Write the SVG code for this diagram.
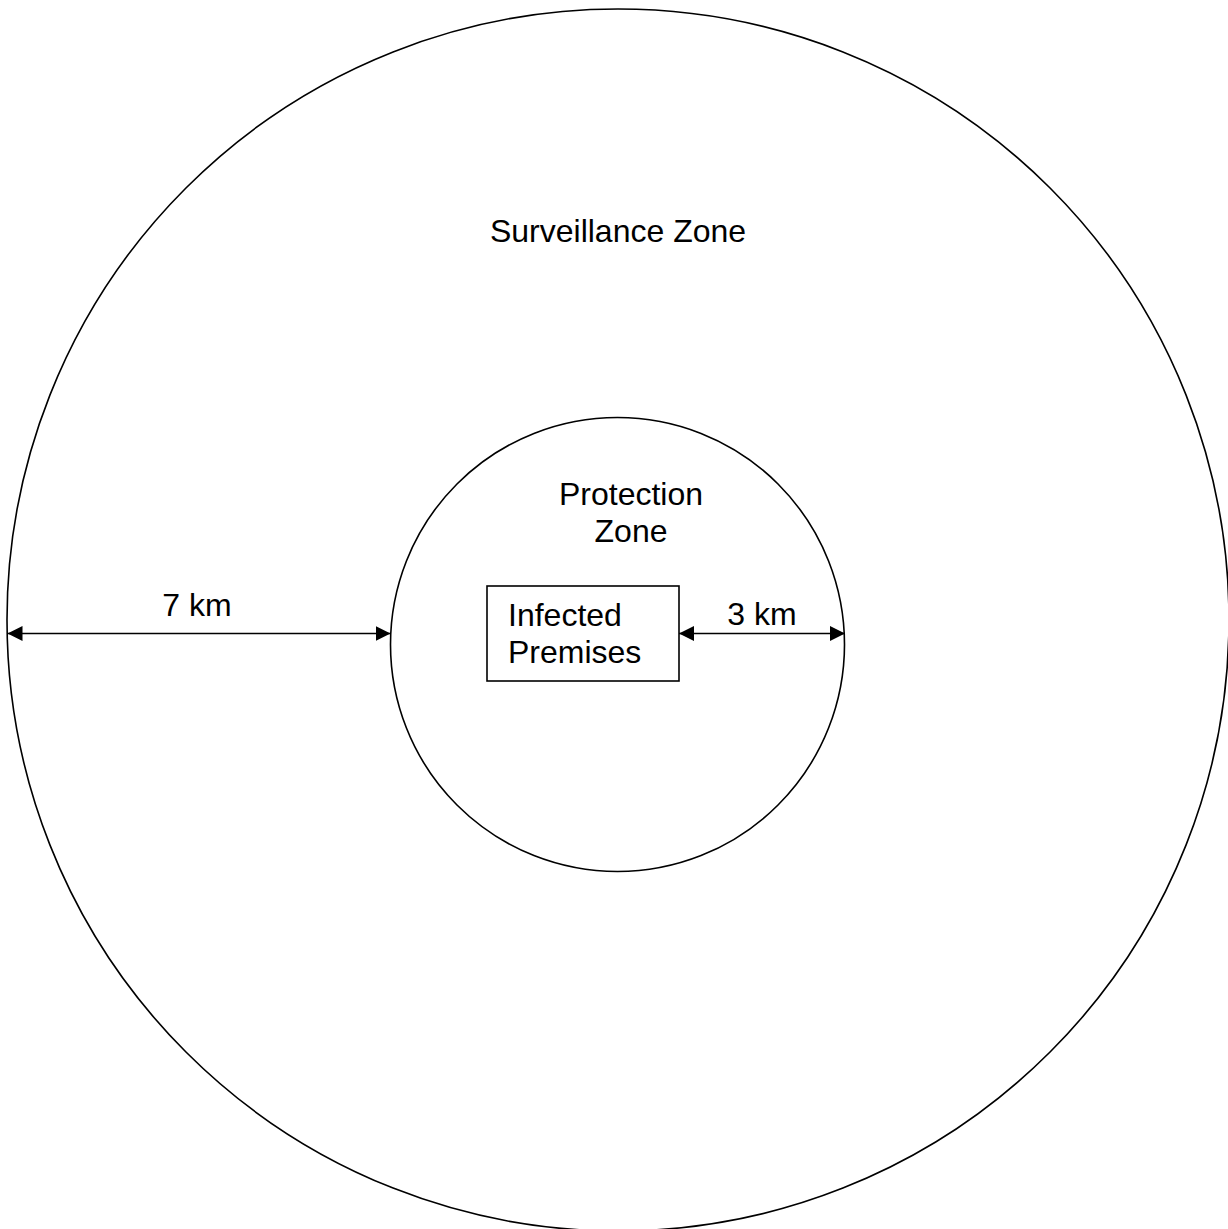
<svg xmlns="http://www.w3.org/2000/svg" width="1228" height="1229" viewBox="0 0 1228 1229">
<style>
.zone{fill:none;stroke:#000;stroke-width:1.6}
.box{fill:#fff;stroke:#000;stroke-width:1.6}
.t{font-family:"Liberation Sans",Arial,sans-serif;font-size:32px;fill:#000}
.c{text-anchor:middle}
.dim{stroke:#000;stroke-width:1.6;fill:none;marker-start:url(#ah);marker-end:url(#ah)}
</style>
<defs>
<marker id="ah" viewBox="0 0 10 10" refX="10" refY="5" markerWidth="15" markerHeight="15" markerUnits="userSpaceOnUse" orient="auto-start-reverse">
<path d="M0,0 L10,5 L0,10 Z" fill="#000"/>
</marker>
</defs>
<rect width="1228" height="1229" fill="#fff"/>
<g id="surveillance-zone">
<circle class="zone" cx="618" cy="620" r="611"/>
<text class="t c" x="618" y="242">Surveillance Zone</text>
</g>
<g id="protection-zone">
<circle class="zone" cx="617.5" cy="644.5" r="227"/>
<text class="t c" x="631" y="505">Protection</text>
<text class="t c" x="631" y="542">Zone</text>
</g>
<g id="infected-premises">
<rect class="box" x="487" y="586" width="192" height="95"/>
<text class="t" x="508" y="626">Infected</text>
<text class="t" x="508" y="663">Premises</text>
</g>
<g id="connectors">
<line class="dim" x1="7.5" y1="633.5" x2="390.5" y2="633.5"/>
<line class="dim" x1="679" y1="633.5" x2="845" y2="633.5"/>
<text class="t c" x="197" y="616">7 km</text>
<text class="t c" x="762" y="625">3 km</text>
</g>
</svg>
